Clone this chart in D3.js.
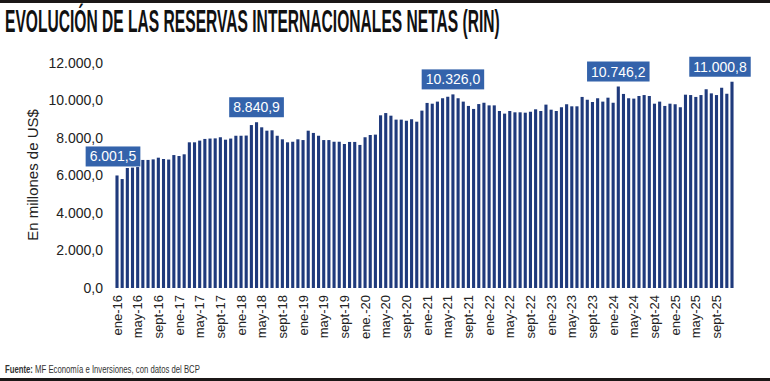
<!DOCTYPE html>
<html>
<head>
<meta charset="utf-8">
<script src="https://cdn.jsdelivr.net/npm/d3@7/dist/d3.min.js"></script>
<style>
  html, body { margin: 0; padding: 0; background: #fff; }
  svg { display: block; }
</style>
</head>
<body>
<svg id="chart" width="770" height="381"></svg>
<script>
// ---------------- DATA ----------------
const months = ["ene","feb","mar","abr","may","jun","jul","ago","sept","oct","nov","dic"];
const years = ["16","17","18","19","20","21","22","23","24","25"];

const values = [
  6001.5, 5810, 6400, 6420, 6450, 6830, 6830, 6860, 6950, 6880, 6850, 7090,
  7040, 7130, 7770, 7770, 7860, 7950, 7970, 7980, 8040, 7910, 7970, 8120,
  8120, 8130, 8690, 8840.9, 8570, 8390, 8410, 8120, 7930, 7770, 7800, 7930,
  7890, 8390, 8270, 8120, 7890, 7890, 7800, 7800, 7680, 7790, 7790, 7630,
  8040, 8160, 8180, 9210, 9330, 9190, 8980, 8980, 8920, 9000, 8870, 9460,
  9870, 9830, 9940, 10120, 10200, 10326.0, 10120, 9940, 9710, 9550, 9810, 9880,
  9740, 9740, 9440, 9300, 9440, 9370, 9370, 9350, 9400, 9530, 9440, 9780,
  9510, 9440, 9640, 9800, 9690, 9690, 10190, 10040, 9920, 10120, 9940, 10150,
  9880, 10746.2, 10350, 10120, 10100, 10240, 10290, 10240, 9830, 9940, 9710, 9830,
  9800, 9640, 10310, 10290, 10190, 10290, 10600, 10380, 10290, 10680, 10360, 11000.8
];

const tickLabels = [
  "ene-16","may-16","sept-16","ene-17","may-17","sept-17","ene-18","may-18","sept-18",
  "ene-19","may-19","sept-19","ene.-20","may-20","sept-20","ene-21","may-21","sept-21",
  "ene-22","may-22","sept-22","ene-23","may-23","sept-23","ene-24","may-24","sept-24",
  "ene-25","may-25","sept-25"
];

const yTicks = [0, 2000, 4000, 6000, 8000, 10000, 12000];

// indices of annotated bars
const highlighted = [0, 27, 65, 97, 119];

// ---------------- CHART ----------------
const categories = [];
years.forEach(y => months.forEach(m => categories.push(m + "-" + y)));

const svg = d3.select("#chart");
const W = 770, H = 381;

const es = d3.formatLocale({decimal: ",", thousands: ".", grouping: [3], currency: ["", ""]});
const fmt = es.format(",.1f");

// frame bands
svg.append("rect").attr("x", 0).attr("y", 0).attr("width", W).attr("height", 3).attr("fill", "#1b1717");
svg.append("rect").attr("x", 0).attr("y", 378).attr("width", W).attr("height", 3).attr("fill", "#1b1717");

// helper: horizontally condense a text to a target width
function condense(sel, x0, y0, targetW) {
  const len = sel.node().getComputedTextLength();
  const k = Math.min(1, targetW / len);
  sel.attr("x", 0).attr("y", 0)
     .attr("transform", `translate(${x0},${y0}) scale(${k},1)`);
}

// title
const title = svg.append("text")
  .attr("font-family", "'Liberation Sans Narrow', 'Arial Narrow', 'Liberation Sans', Arial, sans-serif")
  .attr("font-weight", "bold")
  .attr("font-size", 31)
  .attr("fill", "#111")
  .text("EVOLUCIÓN DE LAS RESERVAS INTERNACIONALES NETAS (RIN)");
condense(title, 5, 32, 495);

const x = d3.scaleBand()
  .domain(categories)
  .range([114.42, 734.58])
  .paddingInner(0.4)
  .paddingOuter(0.2);

const y = d3.scaleLinear().domain([0, 12000]).range([288, 63]);

// y axis
const yAxis = d3.axisLeft(y).tickValues(yTicks).tickFormat(fmt).tickSize(0).tickPadding(0);
const gy = svg.append("g").attr("transform", "translate(103,0)").call(yAxis);
gy.select(".domain").remove();
gy.selectAll("text")
  .attr("font-family", "'Liberation Sans', Arial, sans-serif")
  .attr("font-size", 14)
  .attr("fill", "#222");

// y axis title
svg.append("text")
  .attr("transform", "translate(38,175) rotate(-90)")
  .attr("text-anchor", "middle")
  .attr("font-family", "'Liberation Sans', Arial, sans-serif")
  .attr("font-size", 15)
  .attr("fill", "#222")
  .text("En millones de US$");

// bars
svg.append("g").selectAll("rect")
  .data(values)
  .join("rect")
  .attr("x", (d, i) => x(categories[i]))
  .attr("width", x.bandwidth())
  .attr("y", d => y(d))
  .attr("height", d => y(0) - y(d))
  .attr("fill", "#1f3a7c");

// x axis (every 4th month)
const xAxis = d3.axisBottom(x)
  .tickValues(categories.filter((c, i) => i % 4 === 0))
  .tickFormat((c) => tickLabels[categories.indexOf(c) / 4])
  .tickSize(0).tickPadding(0);
const gx = svg.append("g").attr("transform", "translate(0,295)").call(xAxis);
gx.select(".domain").remove();
gx.selectAll("text")
  .attr("font-family", "'Liberation Sans', Arial, sans-serif")
  .attr("font-size", 13)
  .attr("fill", "#222")
  .attr("text-anchor", "end")
  .attr("transform", "rotate(-90)")
  .attr("x", 0)
  .attr("y", 0)
  .attr("dy", "0.35em");

// annotations
const nudge = {0: [-4, 9], 119: [-12, 5]};
const ann = svg.append("g");
highlighted.forEach(i => {
  const v = values[i];
  const label = fmt(v);
  const [dx, gap] = nudge[i] || [0, 5];
  const cx = x(categories[i]) + x.bandwidth() / 2 + dx;
  const bottom = y(v) - gap;
  const g = ann.append("g");
  const t = g.append("text")
    .attr("x", cx).attr("y", bottom - 5)
    .attr("text-anchor", "middle")
    .attr("font-family", "'Liberation Sans', Arial, sans-serif")
    .attr("font-size", 14)
    .attr("fill", "#fff")
    .text(label);
  const w = t.node().getComputedTextLength() + 8;
  g.insert("rect", "text")
    .attr("x", cx - w / 2).attr("y", bottom - 20)
    .attr("width", w).attr("height", 20)
    .attr("fill", "#3463ab");
});

// source
const src = svg.append("text")
  .attr("font-family", "'Liberation Sans Narrow', 'Arial Narrow', 'Liberation Sans', Arial, sans-serif")
  .attr("font-size", 10)
  .attr("fill", "#333");
src.append("tspan").attr("font-weight", "bold").text("Fuente:");
src.append("tspan").text(" MF Economía e Inversiones, con datos del BCP");
condense(src, 5, 372.5, 195);
</script>
</body>
</html>
